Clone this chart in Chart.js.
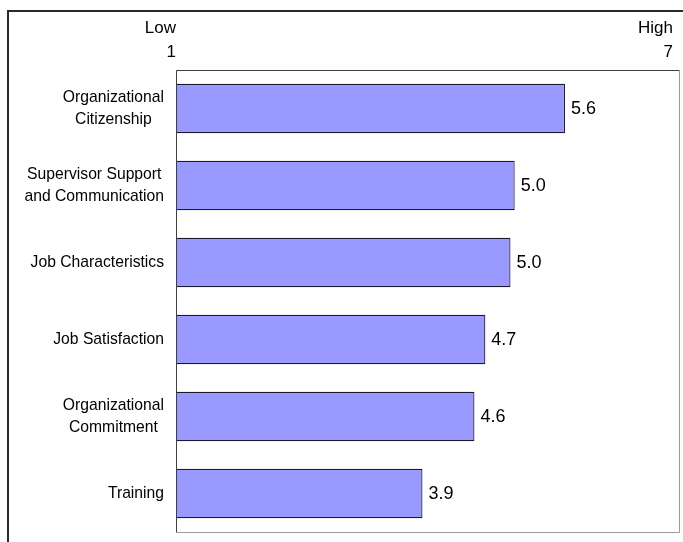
<!DOCTYPE html>
<html>
<head>
<meta charset="utf-8">
<script src="https://cdn.jsdelivr.net/npm/chart.js@4/dist/chart.umd.min.js"></script>
<style>
  html, body { margin: 0; padding: 0; background: #ffffff; }
  #wrap { position: relative; width: 683px; height: 542px; }
</style>
</head>
<body>
<div id="wrap"><canvas id="c" width="683" height="542"></canvas></div>
<script>
const categories = [
  ["Organizational", "Citizenship"],
  ["Supervisor Support", "and Communication"],
  ["Job Characteristics"],
  ["Job Satisfaction"],
  ["Organizational", "Commitment"],
  ["Training"]
];
const scores = [5.64, 5.04, 4.99, 4.69, 4.56, 3.94];
const scaleMin = 1;
const scaleMax = 7;
const endLabels = { low: "Low", high: "High" };

const FONT = "'Liberation Sans', Arial, sans-serif";

const decorPlugin = {
  id: 'decor',
  beforeDraw(chart) {
    const ctx = chart.ctx;
    ctx.save();
    ctx.fillStyle = '#ffffff';
    ctx.fillRect(0, 0, chart.width, chart.height);
    ctx.strokeStyle = '#2a2a2a';
    ctx.lineWidth = 2;
    ctx.beginPath();
    ctx.moveTo(8, chart.height);
    ctx.lineTo(8, 11);
    ctx.lineTo(chart.width, 11);
    ctx.stroke();
    ctx.restore();
  },
  afterDraw(chart) {
    const ctx = chart.ctx;
    const a = chart.chartArea;
    const xs = chart.scales.x;
    const ys = chart.scales.y;
    ctx.save();
    // plot frame
    ctx.lineWidth = 1;
    ctx.strokeStyle = '#9a9a9a';
    ctx.beginPath();
    ctx.moveTo(a.right + 0.5, a.top);
    ctx.lineTo(a.right + 0.5, a.bottom + 0.5);
    ctx.lineTo(a.left, a.bottom + 0.5);
    ctx.stroke();
    ctx.strokeStyle = '#404040';
    ctx.beginPath();
    ctx.moveTo(a.left + 0.5, a.bottom);
    ctx.lineTo(a.left + 0.5, a.top + 0.5);
    ctx.lineTo(a.right, a.top + 0.5);
    ctx.stroke();

    ctx.fillStyle = '#000000';
    ctx.textBaseline = 'middle';

    // end labels
    ctx.font = '17px ' + FONT;
    ctx.textAlign = 'right';
    const xl = xs.getPixelForValue(scaleMin);
    const xh = xs.getPixelForValue(scaleMax) - 6;
    ctx.fillText(endLabels.low, xl, 28);
    ctx.fillText(String(scaleMin), xl, 52);
    ctx.fillText(endLabels.high, xh, 28);
    ctx.fillText(String(scaleMax), xh, 52);

    // category labels: block right-aligned, lines centered
    ctx.font = '15.7px ' + FONT;
    ctx.textAlign = 'center';
    const lineH = 22.5;
    categories.forEach((lines, i) => {
      const yc = ys.getPixelForValue(i);
      const w = Math.max(...lines.map(l => ctx.measureText(l).width));
      const cx = a.left - 12 - w / 2;
      const y0 = yc - (lines.length - 1) * lineH / 2;
      lines.forEach((l, k) => ctx.fillText(l, cx, y0 + k * lineH));
    });

    // value labels
    ctx.font = '18px ' + FONT;
    ctx.textAlign = 'left';
    const meta = chart.getDatasetMeta(0);
    meta.data.forEach((bar, i) => {
      ctx.fillText(scores[i].toFixed(1), bar.x + 6, bar.y + 1);
    });
    ctx.restore();
  }
};

new Chart(document.getElementById('c'), {
  type: 'bar',
  data: {
    labels: categories.map(c => c.join(' ')),
    datasets: [{
      data: scores,
      backgroundColor: '#9999ff',
      borderColor: '#1a1a2a',
      borderWidth: 1.2,
      borderSkipped: false,
      categoryPercentage: 1.0,
      barPercentage: 0.64
    }]
  },
  options: {
    indexAxis: 'y',
    responsive: false,
    animation: false,
    devicePixelRatio: 1,
    layout: { padding: { left: 8, top: 70, right: 4, bottom: 10 } },
    plugins: {
      legend: { display: false },
      tooltip: { enabled: false }
    },
    scales: {
      x: {
        type: 'linear',
        min: scaleMin,
        max: scaleMax,
        display: false
      },
      y: {
        grid: { display: false },
        border: { display: false },
        ticks: { display: false },
        afterFit(scale) { scale.width = 168; }
      }
    }
  },
  plugins: [decorPlugin]
});
</script>
</body>
</html>
